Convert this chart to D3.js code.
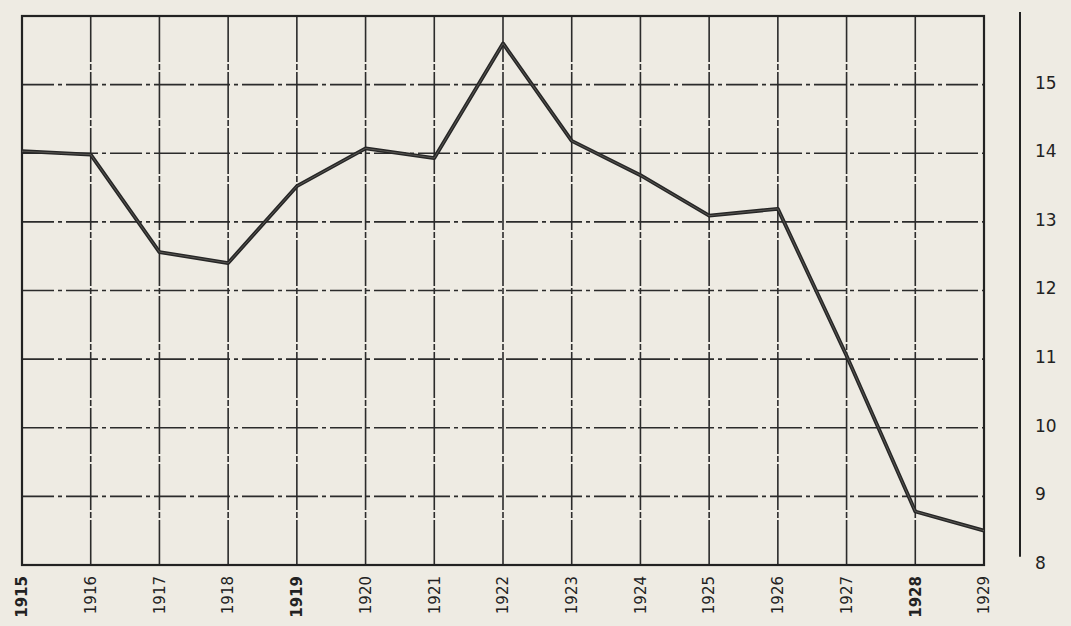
<!DOCTYPE html>
<html>
<head>
    <meta charset="utf-8">
    <style>
        body{ margin: 0; background: #eeebe3; }
        svg{ display: block; }
        text{ font-family: "DejaVu Sans", sans-serif; fill: #222; }
    </style>
    <script src="https://d3js.org/d3.v7.min.js"></script>
</head>
<body>
    <svg width="1071" height="626"></svg>

    <script>
        // Daten
        var years = [1915,1916,1917,1918,1919,1920,1921,1922,1923,1924,1925,1926,1927,1928,1929];
        var values = [14.03,13.98,12.56,12.4,13.52,14.07,13.93,15.6,14.18,13.68,13.09,13.19,11.05,8.78,8.5];
        var yTicks = [8,9,10,11,12,13,14,15];
        var boldYears = [1915,1919,1928];

        var svg = d3.select('svg');
        var x = d3.scaleLinear().domain([1915,1929]).range([22,984]);
        var y = d3.scaleLinear().domain([8,16]).range([565,16]);

        // Gitter
        svg.append("g").selectAll("line")
            .data(yTicks.slice(1))
            .join("line")
            .attr("x1", x(1915)).attr("x2", x(1929))
            .attr("y1", d => y(d)).attr("y2", d => y(d))
            .attr("stroke", "#2b2b2b")
            .attr("stroke-width", 1.6)
            .attr("stroke-dasharray", "32,4,4,4");

        svg.append("g").selectAll("line")
            .data(years.slice(1, -1))
            .join("line")
            .attr("x1", d => x(d)).attr("x2", d => x(d))
            .attr("y1", y(16)).attr("y2", y(8))
            .attr("stroke", "#2b2b2b")
            .attr("stroke-width", 1.6)
            .attr("stroke-dasharray", "46,2,6,2");

        // Rahmen
        svg.append("rect")
            .attr("x", x(1915)).attr("y", y(16))
            .attr("width", x(1929) - x(1915))
            .attr("height", y(8) - y(16))
            .attr("fill", "none")
            .attr("stroke", "#222")
            .attr("stroke-width", 2.2);

        // Kurve
        var line = d3.line()
            .x((d, i) => x(years[i]))
            .y(d => y(d));

        svg.append("path")
            .datum(values)
            .attr("fill", "none")
            .attr("stroke", "#262626")
            .attr("stroke-width", 3.8)
            .attr("stroke-linejoin", "round")
            .attr("d", line);

        svg.append("path")
            .datum(values)
            .attr("fill", "none")
            .attr("stroke", "#6e6b66")
            .attr("stroke-width", 0.7)
            .attr("d", line);

        // Jahreszahlen
        svg.append("g").selectAll("text")
            .data(years)
            .join("text")
            .attr("transform", d => "translate(" + x(d) + ",576) rotate(-90)")
            .attr("text-anchor", "end")
            .attr("dy", "0.35em")
            .style("font-size", "15px")
            .style("font-weight", d => boldYears.includes(d) ? "bold" : "normal")
            .text(d => d);

        // rechte Achse
        var axis = svg.append("g")
            .attr("transform", "translate(1020,0)")
            .call(d3.axisRight(y).tickValues(yTicks).tickSize(0).tickPadding(15).tickFormat(d3.format("d")));
        axis.select(".domain").remove();
        axis.selectAll("text")
            .attr("dy", "0.2em")
            .style("font-size", "17px")
            .style("font-family", "\"DejaVu Sans\", sans-serif")
            .style("fill", "#222");

        svg.append("line")
            .attr("x1", 1020).attr("x2", 1020)
            .attr("y1", y(16.06)).attr("y2", y(8.12))
            .attr("stroke", "#222")
            .attr("stroke-width", 2);
    </script>
</body>
</html>
